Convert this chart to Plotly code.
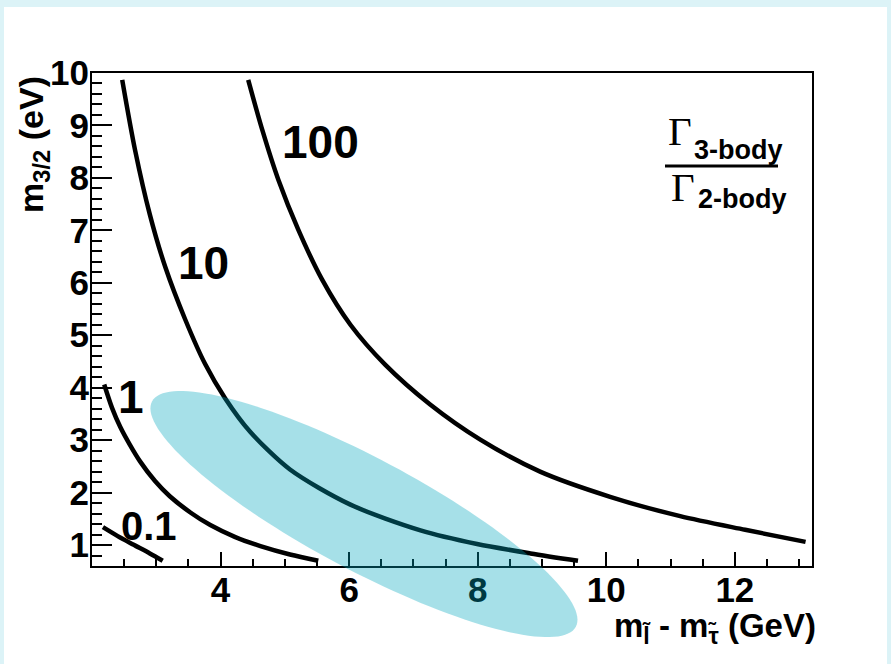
import numpy as np
import plotly.graph_objects as go

# Contours of Gamma(3-body)/Gamma(2-body) in the (slepton - stau mass splitting, gravitino mass) plane
dm_r01 = [2.17, 2.40, 2.64, 2.90, 3.10]
m32_r01 = [1.34, 1.17, 1.01, 0.84, 0.70]

dm_r1 = [2.19, 2.31, 2.44, 2.59, 2.75, 2.98, 3.21, 3.53, 3.84, 4.23, 4.62, 5.08, 5.52]
m32_r1 = [4.06, 3.62, 3.25, 2.91, 2.59, 2.22, 1.93, 1.62, 1.38, 1.15, 0.98, 0.82, 0.70]

dm_r10 = [2.47, 2.67, 2.90, 3.14, 3.45, 3.76, 4.07, 4.46, 5.08, 6.02, 7.11, 7.99, 8.82, 9.56]
m32_r10 = [9.87, 8.53, 7.30, 6.30, 5.30, 4.45, 3.80, 3.16, 2.44, 1.77, 1.28, 1.02, 0.84, 0.70]

dm_r100 = [4.43, 4.65, 4.90, 5.21, 5.58, 6.02, 6.56, 7.26, 8.04, 8.97, 10.06, 11.15, 12.16, 13.10]
m32_r100 = [9.87, 8.91, 7.96, 7.01, 6.06, 5.20, 4.44, 3.68, 3.01, 2.40, 1.92, 1.55, 1.29, 1.06]

curve_labels = ["0.1", "1", "10", "100"]
label_x = [2.89, 2.61, 3.74, 5.55]
label_y = [1.36, 3.83, 6.38, 8.69]
label_size = [40, 46, 46, 46]

x_tick_vals = [4, 6, 8, 10, 12]
y_tick_vals = [1, 2, 3, 4, 5, 6, 7, 8, 9, 10]

# favoured region, drawn as a translucent ellipse
ell_center = (6.23, 1.59)     # data coordinates
ell_semi_axes_px = (240, 56)
ell_tilt_deg = 28

X_RANGE = [2.0, 13.2]
Y_RANGE = [0.6, 10.0]

W, H = 891, 664
ML, MR, MT, MB = 92, 79, 73, 98
PW, PH = W - ML - MR, H - MT - MB

SANS = "Liberation Sans, Arial, Helvetica, sans-serif"
SERIF = "Liberation Serif, Times New Roman, serif"
TICK_FONT = dict(family=SANS, size=35, color="black", weight="bold")


def px_to_paper(px, py):
    return (px - ML) / PW, (MT + PH - py) / PH


def data_to_paper(x, y):
    return ((x - X_RANGE[0]) / (X_RANGE[1] - X_RANGE[0]),
            (y - Y_RANGE[0]) / (Y_RANGE[1] - Y_RANGE[0]))


fig = go.Figure()

for dm, m32 in [(dm_r01, m32_r01), (dm_r1, m32_r1), (dm_r10, m32_r10), (dm_r100, m32_r100)]:
    fig.add_trace(go.Scatter(x=dm, y=m32, mode="lines",
                             line=dict(color="black", width=4.5, shape="spline", smoothing=0.8),
                             showlegend=False, hoverinfo="skip"))

# empty trace bound to the label-only axes so they are laid out
fig.add_trace(go.Scatter(x=[], y=[], xaxis="x2", yaxis="y2", showlegend=False, hoverinfo="skip"))

annotations = []
for txt, lx, ly, sz in zip(curve_labels, label_x, label_y, label_size):
    annotations.append(dict(x=lx, y=ly, xref="x", yref="y", text=txt, showarrow=False,
                            font=dict(family=SANS, size=sz, color="black", weight="bold")))

# axis titles
annotations.append(dict(x=1.0 + 5 / PW, xref="paper", y=px_to_paper(0, 606)[1], yref="paper",
                        xanchor="right", yanchor="top", showarrow=False, borderpad=0,
                        text="m<sub>l\u0303</sub> - m<sub>\u03c4\u0303</sub> (GeV)",
                        font=dict(family=SANS, size=33, color="black", weight="bold")))
annotations.append(dict(x=px_to_paper(33, 0)[0], xref="paper", y=px_to_paper(0, 145)[1], yref="paper",
                        xanchor="center", yanchor="middle", showarrow=False, textangle=-90,
                        text="m<sub>3/2</sub> (eV)",
                        font=dict(family=SANS, size=34, color="black", weight="bold")))

# ratio key: Gamma_3-body / Gamma_2-body
key_items = [("\u0393", 680, 131, SERIF, 41, "center", None),
             ("\u0393", 683, 187, SERIF, 41, "center", None),
             ("3-body", 692, 150, SANS, 27, "left", "bold"),
             ("2-body", 696, 199, SANS, 27, "left", "bold")]
for txt, px, py, fam, sz, xa, wt in key_items:
    kx, ky = px_to_paper(px, py)
    f = dict(family=fam, size=sz, color="black")
    if wt:
        f["weight"] = wt
    annotations.append(dict(x=kx, y=ky, xref="paper", yref="paper", text=txt,
                            xanchor=xa, yanchor="middle", showarrow=False, font=f))

shapes = []
# page frame
fx0, fy0 = px_to_paper(4, 7)
fx1, fy1 = px_to_paper(887, 664)
shapes.append(dict(type="rect", xref="paper", yref="paper", x0=fx0, x1=fx1, y0=fy1, y1=fy0,
                   fillcolor="white", line=dict(width=0), layer="below"))
# fraction bar
bx0, by = px_to_paper(665, 166)
bx1, _ = px_to_paper(778, 166)
shapes.append(dict(type="line", xref="paper", yref="paper", x0=bx0, x1=bx1, y0=by, y1=by,
                   line=dict(color="black", width=3)))

# translucent ellipse (drawn on top of everything)
cxp, cyp = data_to_paper(*ell_center)
a, b = ell_semi_axes_px
th = np.deg2rad(ell_tilt_deg)
t = np.linspace(0, 2 * np.pi, 145)
dx = a * np.cos(t) * np.cos(th) - b * np.sin(t) * np.sin(th)
dy = a * np.cos(t) * np.sin(th) + b * np.sin(t) * np.cos(th)
ex = cxp + dx / PW
ey = cyp - dy / PH
path = "M " + " L ".join(f"{u:.5f},{v:.5f}" for u, v in zip(ex, ey)) + " Z"
shapes.append(dict(type="path", xref="paper", yref="paper", path=path,
                   fillcolor="rgba(0,166,189,0.35)", line=dict(width=0), layer="above"))

fig.update_layout(
    width=W, height=H,
    margin=dict(l=ML, r=MR, t=MT, b=MB),
    paper_bgcolor="#dcf3f7",
    plot_bgcolor="white",
    showlegend=False,
    annotations=annotations,
    shapes=shapes,
    xaxis=dict(range=X_RANGE, showline=True, linecolor="black", linewidth=2, mirror=True,
               ticks="inside", ticklen=14, tickwidth=2, tickcolor="black",
               tick0=0, dtick=2, showgrid=False, zeroline=False, showticklabels=False,
               minor=dict(dtick=0.5, ticks="inside", ticklen=7, tickwidth=1.5,
                          tickcolor="black", showgrid=False)),
    yaxis=dict(range=Y_RANGE, showline=True, linecolor="black", linewidth=2, mirror=True,
               ticks="inside", ticklen=20, tickwidth=2, tickcolor="black",
               tick0=0, dtick=1, showgrid=False, zeroline=False, showticklabels=False,
               minor=dict(dtick=0.2, ticks="inside", ticklen=10, tickwidth=1.5,
                          tickcolor="black", showgrid=False)),
    # label-only axes, sitting closer to the frame than the default standoff
    xaxis2=dict(range=X_RANGE, overlaying="x", anchor="free", position=0, side="bottom",
                tickvals=x_tick_vals, ticks="", showline=False, showgrid=False, zeroline=False,
                tickfont=TICK_FONT, ticklabelstandoff=0),
    yaxis2=dict(range=Y_RANGE, overlaying="y", anchor="free", position=0, side="left",
                tickvals=y_tick_vals, ticks="", showline=False, showgrid=False, zeroline=False,
                tickfont=TICK_FONT, ticklabelstandoff=3),
)

fig.write_html("out.html")
